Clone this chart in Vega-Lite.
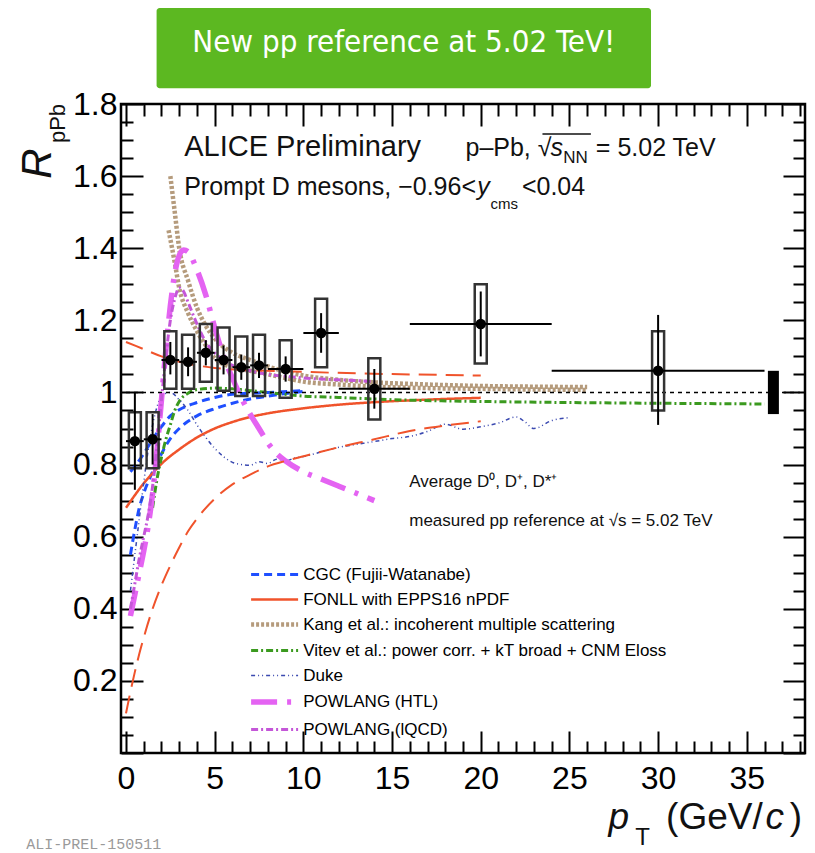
{
"$schema": "https://vega.github.io/schema/vega-lite/v6.json",
"width": 684, "height": 649,
"autosize": {"type": "none"},
"padding": {"left": 121, "top": 104, "right": 10, "bottom": 100},
"background": "white",
"config": {
 "view": {"stroke": "black", "strokeWidth": 2.5},
 "font": "Liberation Sans",
 "axis": {"labelFont": "Liberation Sans", "labelFontSize": 32, "labelColor": "black", "labelOverlap": false, "labelFlush": false, "labelSeparation": -40, "ticks": false, "domain": false, "grid": true, "gridColor": "black", "gridOpacity": 1, "gridWidth": 2, "titleOpacity": 0}
},
"resolve": {"axis": {"x": "independent", "y": "independent"}},
"datasets": {
"names": [
{"id": "cgc", "m": "CGC (Fujii-Watanabe)"},
{"id": "fonll", "m": "FONLL with EPPS16 nPDF"},
{"id": "kang", "m": "Kang et al.: incoherent multiple scattering"},
{"id": "vitev", "m": "Vitev et al.: power corr. + kT broad + CNM Eloss"},
{"id": "duke", "m": "Duke"},
{"id": "htl", "m": "POWLANG (HTL)"},
{"id": "lqcd", "m": "POWLANG (lQCD)"}
],
"models": [
{"id":"cgc","c":"u","pt":0.25,"r":0.78},{"id":"cgc","c":"u","pt":0.5,"r":0.795},{"id":"cgc","c":"u","pt":1,"r":0.83},{"id":"cgc","c":"u","pt":1.5,"r":0.87},{"id":"cgc","c":"u","pt":2,"r":0.905},{"id":"cgc","c":"u","pt":2.5,"r":0.935},{"id":"cgc","c":"u","pt":3,"r":0.952},{"id":"cgc","c":"u","pt":4,"r":0.972},{"id":"cgc","c":"u","pt":5,"r":0.986},{"id":"cgc","c":"u","pt":6,"r":0.995},{"id":"cgc","c":"u","pt":8,"r":1.0},{"id":"cgc","c":"u","pt":10,"r":1.005},
{"id":"cgc","c":"l","pt":0.25,"r":0.55},{"id":"cgc","c":"l","pt":0.5,"r":0.62},{"id":"cgc","c":"l","pt":0.75,"r":0.68},{"id":"cgc","c":"l","pt":1,"r":0.72},{"id":"cgc","c":"l","pt":1.5,"r":0.78},{"id":"cgc","c":"l","pt":2,"r":0.83},{"id":"cgc","c":"l","pt":2.5,"r":0.872},{"id":"cgc","c":"l","pt":3,"r":0.9},{"id":"cgc","c":"l","pt":3.5,"r":0.92},{"id":"cgc","c":"l","pt":4,"r":0.935},{"id":"cgc","c":"l","pt":5,"r":0.955},{"id":"cgc","c":"l","pt":6,"r":0.97},{"id":"cgc","c":"l","pt":7,"r":0.982},{"id":"cgc","c":"l","pt":8,"r":0.99},{"id":"cgc","c":"l","pt":9,"r":0.997},{"id":"cgc","c":"l","pt":10,"r":1.003},
{"id":"fonll","c":"c","pt":0,"r":0.68},{"id":"fonll","c":"c","pt":0.5,"r":0.715},{"id":"fonll","c":"c","pt":1,"r":0.748},{"id":"fonll","c":"c","pt":1.5,"r":0.776},{"id":"fonll","c":"c","pt":2,"r":0.802},{"id":"fonll","c":"c","pt":3,"r":0.842},{"id":"fonll","c":"c","pt":4,"r":0.875},{"id":"fonll","c":"c","pt":5,"r":0.9},{"id":"fonll","c":"c","pt":6,"r":0.918},{"id":"fonll","c":"c","pt":7,"r":0.932},{"id":"fonll","c":"c","pt":8,"r":0.942},{"id":"fonll","c":"c","pt":10,"r":0.956},{"id":"fonll","c":"c","pt":12,"r":0.966},{"id":"fonll","c":"c","pt":14,"r":0.973},{"id":"fonll","c":"c","pt":16,"r":0.978},{"id":"fonll","c":"c","pt":18,"r":0.982},{"id":"fonll","c":"c","pt":20,"r":0.985},
{"id":"fonll","c":"eu","pt":0,"r":1.14},{"id":"fonll","c":"eu","pt":1,"r":1.12},{"id":"fonll","c":"eu","pt":2,"r":1.1},{"id":"fonll","c":"eu","pt":3,"r":1.085},{"id":"fonll","c":"eu","pt":4,"r":1.075},{"id":"fonll","c":"eu","pt":5,"r":1.068},{"id":"fonll","c":"eu","pt":7,"r":1.062},{"id":"fonll","c":"eu","pt":10,"r":1.057},{"id":"fonll","c":"eu","pt":13,"r":1.053},{"id":"fonll","c":"eu","pt":16,"r":1.05},{"id":"fonll","c":"eu","pt":20,"r":1.047},
{"id":"fonll","c":"el","pt":0,"r":0.11},{"id":"fonll","c":"el","pt":0.25,"r":0.17},{"id":"fonll","c":"el","pt":0.5,"r":0.225},{"id":"fonll","c":"el","pt":0.75,"r":0.275},{"id":"fonll","c":"el","pt":1,"r":0.32},{"id":"fonll","c":"el","pt":1.5,"r":0.4},{"id":"fonll","c":"el","pt":2,"r":0.465},{"id":"fonll","c":"el","pt":2.5,"r":0.52},{"id":"fonll","c":"el","pt":3,"r":0.57},{"id":"fonll","c":"el","pt":3.5,"r":0.615},{"id":"fonll","c":"el","pt":4,"r":0.65},{"id":"fonll","c":"el","pt":5,"r":0.705},{"id":"fonll","c":"el","pt":6,"r":0.745},{"id":"fonll","c":"el","pt":7,"r":0.772},{"id":"fonll","c":"el","pt":8,"r":0.795},{"id":"fonll","c":"el","pt":9,"r":0.81},{"id":"fonll","c":"el","pt":10,"r":0.823},{"id":"fonll","c":"el","pt":12,"r":0.848},{"id":"fonll","c":"el","pt":14,"r":0.87},{"id":"fonll","c":"el","pt":16,"r":0.893},{"id":"fonll","c":"el","pt":18,"r":0.908},{"id":"fonll","c":"el","pt":20,"r":0.92},
{"id":"kang","c":"u","pt":2.5,"r":1.6},{"id":"kang","c":"u","pt":2.75,"r":1.5},{"id":"kang","c":"u","pt":3,"r":1.4},{"id":"kang","c":"u","pt":3.5,"r":1.31},{"id":"kang","c":"u","pt":4,"r":1.235},{"id":"kang","c":"u","pt":4.5,"r":1.185},{"id":"kang","c":"u","pt":5,"r":1.15},{"id":"kang","c":"u","pt":6,"r":1.11},{"id":"kang","c":"u","pt":7,"r":1.09},{"id":"kang","c":"u","pt":8,"r":1.072},{"id":"kang","c":"u","pt":9,"r":1.058},{"id":"kang","c":"u","pt":10,"r":1.047},{"id":"kang","c":"u","pt":12,"r":1.035},{"id":"kang","c":"u","pt":14,"r":1.028},{"id":"kang","c":"u","pt":17,"r":1.022},{"id":"kang","c":"u","pt":20,"r":1.018},{"id":"kang","c":"u","pt":23,"r":1.016},{"id":"kang","c":"u","pt":26,"r":1.015},
{"id":"kang","c":"l","pt":2.4,"r":1.45},{"id":"kang","c":"l","pt":2.75,"r":1.36},{"id":"kang","c":"l","pt":3,"r":1.29},{"id":"kang","c":"l","pt":3.5,"r":1.22},{"id":"kang","c":"l","pt":4,"r":1.17},{"id":"kang","c":"l","pt":4.5,"r":1.13},{"id":"kang","c":"l","pt":5,"r":1.095},{"id":"kang","c":"l","pt":6,"r":1.07},{"id":"kang","c":"l","pt":7,"r":1.06},{"id":"kang","c":"l","pt":8,"r":1.05},{"id":"kang","c":"l","pt":9,"r":1.04},{"id":"kang","c":"l","pt":10,"r":1.03},{"id":"kang","c":"l","pt":12,"r":1.022},{"id":"kang","c":"l","pt":14,"r":1.016},{"id":"kang","c":"l","pt":17,"r":1.012},{"id":"kang","c":"l","pt":20,"r":1.01},{"id":"kang","c":"l","pt":23,"r":1.008},{"id":"kang","c":"l","pt":26,"r":1.007},
{"id":"vitev","c":"a","pt":1.5,"r":0.68},{"id":"vitev","c":"a","pt":1.75,"r":0.76},{"id":"vitev","c":"a","pt":2,"r":0.82},{"id":"vitev","c":"a","pt":2.25,"r":0.87},{"id":"vitev","c":"a","pt":2.5,"r":0.91},{"id":"vitev","c":"a","pt":2.75,"r":0.95},{"id":"vitev","c":"a","pt":3,"r":0.975},{"id":"vitev","c":"a","pt":3.5,"r":0.998},{"id":"vitev","c":"a","pt":4,"r":1.008},{"id":"vitev","c":"a","pt":5,"r":1.012},{"id":"vitev","c":"a","pt":6,"r":1.01},{"id":"vitev","c":"a","pt":7,"r":1.005},{"id":"vitev","c":"a","pt":8,"r":1.0},{"id":"vitev","c":"a","pt":10,"r":0.99},{"id":"vitev","c":"a","pt":12,"r":0.986},{"id":"vitev","c":"a","pt":15,"r":0.98},{"id":"vitev","c":"a","pt":20,"r":0.975},{"id":"vitev","c":"a","pt":25,"r":0.972},{"id":"vitev","c":"a","pt":30,"r":0.97},{"id":"vitev","c":"a","pt":36,"r":0.968},
{"id":"duke","c":"a","pt":0.25,"r":0.45},{"id":"duke","c":"a","pt":0.5,"r":0.55},{"id":"duke","c":"a","pt":0.75,"r":0.65},{"id":"duke","c":"a","pt":1,"r":0.75},{"id":"duke","c":"a","pt":1.25,"r":0.84},{"id":"duke","c":"a","pt":1.5,"r":0.91},{"id":"duke","c":"a","pt":1.75,"r":0.96},{"id":"duke","c":"a","pt":2,"r":0.99},{"id":"duke","c":"a","pt":2.5,"r":1.0},{"id":"duke","c":"a","pt":3,"r":0.98},{"id":"duke","c":"a","pt":3.5,"r":0.95},{"id":"duke","c":"a","pt":4,"r":0.91},{"id":"duke","c":"a","pt":4.5,"r":0.875},{"id":"duke","c":"a","pt":5,"r":0.845},{"id":"duke","c":"a","pt":5.5,"r":0.822},{"id":"duke","c":"a","pt":6,"r":0.806},{"id":"duke","c":"a","pt":6.5,"r":0.8},{"id":"duke","c":"a","pt":7,"r":0.798},{"id":"duke","c":"a","pt":7.5,"r":0.808},{"id":"duke","c":"a","pt":8,"r":0.803},{"id":"duke","c":"a","pt":8.5,"r":0.815},{"id":"duke","c":"a","pt":9,"r":0.81},{"id":"duke","c":"a","pt":9.5,"r":0.818},{"id":"duke","c":"a","pt":10,"r":0.822},{"id":"duke","c":"a","pt":11,"r":0.835},{"id":"duke","c":"a","pt":12,"r":0.848},{"id":"duke","c":"a","pt":13,"r":0.856},{"id":"duke","c":"a","pt":14,"r":0.864},{"id":"duke","c":"a","pt":15,"r":0.872},{"id":"duke","c":"a","pt":16,"r":0.878},{"id":"duke","c":"a","pt":17,"r":0.892},{"id":"duke","c":"a","pt":18,"r":0.912},{"id":"duke","c":"a","pt":19,"r":0.898},{"id":"duke","c":"a","pt":20,"r":0.905},{"id":"duke","c":"a","pt":21,"r":0.915},{"id":"duke","c":"a","pt":22,"r":0.932},{"id":"duke","c":"a","pt":22.5,"r":0.918},{"id":"duke","c":"a","pt":23,"r":0.9},{"id":"duke","c":"a","pt":24,"r":0.922},{"id":"duke","c":"a","pt":25,"r":0.93},
{"id":"htl","c":"a","pt":0.25,"r":0.38},{"id":"htl","c":"a","pt":0.5,"r":0.44},{"id":"htl","c":"a","pt":0.75,"r":0.5},{"id":"htl","c":"a","pt":1,"r":0.56},{"id":"htl","c":"a","pt":1.25,"r":0.63},{"id":"htl","c":"a","pt":1.5,"r":0.72},{"id":"htl","c":"a","pt":1.75,"r":0.84},{"id":"htl","c":"a","pt":2,"r":0.98},{"id":"htl","c":"a","pt":2.25,"r":1.12},{"id":"htl","c":"a","pt":2.5,"r":1.24},{"id":"htl","c":"a","pt":2.75,"r":1.33},{"id":"htl","c":"a","pt":3,"r":1.38},{"id":"htl","c":"a","pt":3.25,"r":1.395},{"id":"htl","c":"a","pt":3.5,"r":1.39},{"id":"htl","c":"a","pt":4,"r":1.34},{"id":"htl","c":"a","pt":4.5,"r":1.27},{"id":"htl","c":"a","pt":5,"r":1.18},{"id":"htl","c":"a","pt":5.5,"r":1.1},{"id":"htl","c":"a","pt":6,"r":1.04},{"id":"htl","c":"a","pt":6.5,"r":0.985},{"id":"htl","c":"a","pt":7,"r":0.94},{"id":"htl","c":"a","pt":7.5,"r":0.9},{"id":"htl","c":"a","pt":8,"r":0.86},{"id":"htl","c":"a","pt":8.5,"r":0.83},{"id":"htl","c":"a","pt":9,"r":0.81},{"id":"htl","c":"a","pt":10,"r":0.78},{"id":"htl","c":"a","pt":11,"r":0.76},{"id":"htl","c":"a","pt":12,"r":0.74},{"id":"htl","c":"a","pt":13,"r":0.72},{"id":"htl","c":"a","pt":14,"r":0.7},
{"id":"lqcd","c":"a","pt":0.25,"r":0.4},{"id":"lqcd","c":"a","pt":0.5,"r":0.47},{"id":"lqcd","c":"a","pt":0.75,"r":0.54},{"id":"lqcd","c":"a","pt":1,"r":0.6},{"id":"lqcd","c":"a","pt":1.25,"r":0.66},{"id":"lqcd","c":"a","pt":1.5,"r":0.74},{"id":"lqcd","c":"a","pt":1.75,"r":0.85},{"id":"lqcd","c":"a","pt":2,"r":0.98},{"id":"lqcd","c":"a","pt":2.25,"r":1.1},{"id":"lqcd","c":"a","pt":2.5,"r":1.2},{"id":"lqcd","c":"a","pt":2.75,"r":1.26},{"id":"lqcd","c":"a","pt":3,"r":1.29},{"id":"lqcd","c":"a","pt":3.25,"r":1.28},{"id":"lqcd","c":"a","pt":3.5,"r":1.25},{"id":"lqcd","c":"a","pt":4,"r":1.19},{"id":"lqcd","c":"a","pt":4.5,"r":1.14},{"id":"lqcd","c":"a","pt":5,"r":1.11},{"id":"lqcd","c":"a","pt":6,"r":1.075},{"id":"lqcd","c":"a","pt":7,"r":1.06},{"id":"lqcd","c":"a","pt":8,"r":1.05},{"id":"lqcd","c":"a","pt":9,"r":1.045},{"id":"lqcd","c":"a","pt":10,"r":1.04},{"id":"lqcd","c":"a","pt":11,"r":1.037},{"id":"lqcd","c":"a","pt":12,"r":1.035},{"id":"lqcd","c":"a","pt":13,"r":1.033},{"id":"lqcd","c":"a","pt":14,"r":1.03}
],
"dmeson": [
{"pt":0.5,"ptlo":0,"pthi":1,"r":0.865,"slo":0.73,"shi":1.0,"ylo":0.79,"yhi":0.945},
{"pt":1.5,"ptlo":1,"pthi":2,"r":0.87,"slo":0.8,"shi":0.94,"ylo":0.79,"yhi":0.945},
{"pt":2.5,"ptlo":2,"pthi":3,"r":1.09,"slo":1.05,"shi":1.14,"ylo":1.01,"yhi":1.17},
{"pt":3.5,"ptlo":3,"pthi":4,"r":1.085,"slo":1.045,"shi":1.125,"ylo":1.01,"yhi":1.16},
{"pt":4.5,"ptlo":4,"pthi":5,"r":1.11,"slo":1.075,"shi":1.145,"ylo":1.03,"yhi":1.19},
{"pt":5.5,"ptlo":5,"pthi":6,"r":1.09,"slo":1.05,"shi":1.13,"ylo":1.005,"yhi":1.18},
{"pt":6.5,"ptlo":6,"pthi":7,"r":1.07,"slo":1.035,"shi":1.105,"ylo":0.99,"yhi":1.155},
{"pt":7.5,"ptlo":7,"pthi":8,"r":1.075,"slo":1.04,"shi":1.11,"ylo":0.99,"yhi":1.16},
{"pt":9,"ptlo":8,"pthi":10,"r":1.065,"slo":1.03,"shi":1.1,"ylo":0.985,"yhi":1.145},
{"pt":11,"ptlo":10,"pthi":12,"r":1.165,"slo":1.11,"shi":1.22,"ylo":1.07,"yhi":1.26},
{"pt":14,"ptlo":12,"pthi":16,"r":1.01,"slo":0.955,"shi":1.065,"ylo":0.925,"yhi":1.095},
{"pt":20,"ptlo":16,"pthi":24,"r":1.19,"slo":1.1,"shi":1.28,"ylo":1.08,"yhi":1.3},
{"pt":30,"ptlo":24,"pthi":36,"r":1.06,"slo":0.91,"shi":1.215,"ylo":0.95,"yhi":1.17}
],
"norm": [{"pt": 36.5, "lo": 0.94, "hi": 1.06}]
},
"layer": [
{"data": {"name": "models"},
 "transform": [{"filter": "datum.c != 'eu' && datum.c != 'el'"}, {"lookup": "id", "from": {"data": {"name": "names"}, "key": "id", "fields": ["m"]}}],
 "mark": {"type": "line", "interpolate": "monotone"},
 "encoding": {
  "x": {"field": "pt", "type": "quantitative", "title": null, "scale": {"domain": [0, 38], "nice": false, "zero": false},
   "axis": {"title": null, "orient": "bottom", "values": [0,1,2,3,4,5,6,7,8,9,10,11,12,13,14,15,16,17,18,19,20,21,22,23,24,25,26,27,28,29,30,31,32,33,34,35,36,37,38], "format": "d",
    "labelExpr": "datum.value % 5 == 0 ? datum.label : ''", "labelFont": "Liberation Sans", "labelFontSize": 32, "labelColor": "black", "labelPadding": 10, "labelOverlap": false, "labelFlush": false, "labelSeparation": -40,
    "ticks": false, "domain": false, "grid": true, "gridColor": "black", "gridOpacity": 1, "gridWidth": 2,
    "gridDash": {"condition": {"test": "datum.value % 5 == 0", "value": [22, 605, 22]}, "value": [12, 625, 12]}}},
  "y": {"field": "r", "type": "quantitative", "title": null, "scale": {"domain": [0, 1.8], "nice": false, "zero": false},
   "axis": {"title": null, "orient": "left", "values": [0,0.05,0.1,0.15,0.2,0.25,0.3,0.35,0.4,0.45,0.5,0.55,0.6,0.65,0.7,0.75,0.8,0.85,0.9,0.95,1,1.05,1.1,1.15,1.2,1.25,1.3,1.35,1.4,1.45,1.5,1.55,1.6,1.65,1.7,1.75,1.8], "format": ".2~f",
    "labelExpr": "round(datum.value*100) % 20 == 0 && datum.value > 0.01 ? datum.label : ''", "labelFont": "Liberation Sans", "labelFontSize": 32, "labelColor": "black", "labelPadding": 4, "labelOverlap": false, "labelFlush": false, "labelSeparation": -40,
    "ticks": false, "domain": false, "grid": true, "gridColor": "black", "gridOpacity": 1, "gridWidth": 2,
    "gridDash": {"condition": {"test": "round(datum.value*100) % 20 == 0", "value": [22, 640, 22]}, "value": [12, 660, 12]}}},
  "color": {"field": "m", "type": "nominal",
   "scale": {"domain": ["CGC (Fujii-Watanabe)", "FONLL with EPPS16 nPDF", "Kang et al.: incoherent multiple scattering", "Vitev et al.: power corr. + kT broad + CNM Eloss", "Duke", "POWLANG (HTL)", "POWLANG (lQCD)"],
    "range": ["#1f4fff", "#f0532b", "#b59b7c", "#3b9a1f", "#3a49b0", "#e463f2", "#c456d8"]},
   "legend": {"orient": "none", "legendX": 144.6, "legendY": 462, "title": null, "symbolType": "M-4,0H4", "symbolSize": 138, "symbolStrokeWidth": 3, "labelFont": "Liberation Sans", "labelFontSize": 17, "labelColor": "black", "labelOffset": 19.6, "rowPadding": 7, "padding": 0, "labelLimit": 600}},
  "strokeDash": {"field": "m", "type": "nominal",
   "scale": {"domain": ["CGC (Fujii-Watanabe)", "FONLL with EPPS16 nPDF", "Kang et al.: incoherent multiple scattering", "Vitev et al.: power corr. + kT broad + CNM Eloss", "Duke", "POWLANG (HTL)", "POWLANG (lQCD)"],
    "range": [[8, 5], [1, 0], [3, 2], [7, 3, 2, 3], [4, 3, 1, 3, 1, 3], [26, 10, 4, 10], [7, 3, 2, 3]]}},
  "strokeWidth": {"field": "m", "type": "nominal", "legend": null,
   "scale": {"type": "ordinal", "domain": ["CGC (Fujii-Watanabe)", "FONLL with EPPS16 nPDF", "Kang et al.: incoherent multiple scattering", "Vitev et al.: power corr. + kT broad + CNM Eloss", "Duke", "POWLANG (HTL)", "POWLANG (lQCD)"],
    "range": [3, 2.5, 4.5, 3, 1.5, 5.5, 3]}},
  "detail": {"field": "c"}
 }},
{"data": {"name": "models"}, "transform": [{"filter": "datum.c == 'eu' || datum.c == 'el'"}],
 "mark": {"type": "line", "interpolate": "monotone", "color": "#f0532b", "strokeWidth": 2, "strokeDash": [18, 9]},
 "encoding": {"x": {"field": "pt", "type": "quantitative", "axis": null}, "y": {"field": "r", "type": "quantitative", "axis": null}, "detail": {"field": "c"}}},
{"data": {"values": [{}]}, "mark": {"type": "rule", "color": "black", "strokeWidth": 1.5, "strokeDash": [4, 4]}, "encoding": {"x": {"datum": 0, "axis": null}, "x2": {"datum": 38}, "y": {"datum": 1, "axis": null}}},
{"data": {"name": "dmeson"}, "mark": {"type": "bar", "width": 12, "filled": false, "color": "#333", "strokeWidth": 2.5},
 "encoding": {"x": {"field": "pt", "type": "quantitative", "axis": null}, "y": {"field": "ylo", "type": "quantitative", "axis": null}, "y2": {"field": "yhi"}}},
{"data": {"name": "dmeson"}, "mark": {"type": "rule", "color": "black", "strokeWidth": 2},
 "encoding": {"x": {"field": "ptlo", "type": "quantitative", "axis": null}, "x2": {"field": "pthi"}, "y": {"field": "r", "type": "quantitative", "axis": null}}},
{"data": {"name": "dmeson"}, "mark": {"type": "rule", "color": "black", "strokeWidth": 2},
 "encoding": {"x": {"field": "pt", "type": "quantitative", "axis": null}, "y": {"field": "slo", "type": "quantitative", "axis": null}, "y2": {"field": "shi"}}},
{"data": {"name": "dmeson"}, "mark": {"type": "circle", "color": "black", "opacity": 1, "size": 110},
 "encoding": {"x": {"field": "pt", "type": "quantitative", "axis": null}, "y": {"field": "r", "type": "quantitative", "axis": null}}},
{"data": {"name": "norm"}, "mark": {"type": "bar", "width": 11, "color": "black"},
 "encoding": {"x": {"field": "pt", "type": "quantitative", "axis": null}, "y": {"field": "lo", "type": "quantitative", "axis": null}, "y2": {"field": "hi"}}},
{"data": {"values": [{}]}, "mark": {"type": "rect", "color": "#5cb821", "cornerRadius": 3}, "encoding": {"x": {"datum": 1.725, "axis": null}, "x2": {"datum": 29.6}, "y": {"datum": 2.066, "axis": null}, "y2": {"datum": 1.844}}},
{"data": {"values": [{}]}, "mark": {"type": "text", "text": "New pp reference at 5.02 TeV!", "font": "DejaVu Sans Condensed, Liberation Sans", "fontSize": 31, "color": "white", "align": "center", "baseline": "middle"}, "encoding": {"x": {"datum": 15.66, "axis": null}, "y": {"datum": 1.969, "axis": null}}},
{"data": {"values": [{}]}, "mark": {"type": "text", "text": "ALICE Preliminary", "fontSize": 29, "color": "#111", "align": "left", "baseline": "middle"}, "encoding": {"x": {"datum": 3.28, "axis": null}, "y": {"datum": 1.6794, "axis": null}}},
{"data": {"values": [{}]}, "mark": {"type": "text", "text": "p–Pb, √", "fontSize": 25, "color": "#111", "align": "left", "baseline": "middle"}, "encoding": {"x": {"datum": 19.14, "axis": null}, "y": {"datum": 1.678, "axis": null}}},
{"data": {"values": [{}]}, "mark": {"type": "text", "text": "s", "fontSize": 25, "fontStyle": "italic", "color": "#111", "align": "left", "baseline": "middle"}, "encoding": {"x": {"datum": 23.93, "axis": null}, "y": {"datum": 1.678, "axis": null}}},
{"data": {"values": [{}]}, "mark": {"type": "text", "text": "NN", "fontSize": 17, "color": "#111", "align": "left", "baseline": "middle"}, "encoding": {"x": {"datum": 24.65, "axis": null}, "y": {"datum": 1.649, "axis": null}}},
{"data": {"values": [{}]}, "mark": {"type": "text", "text": "= 5.02 TeV", "fontSize": 25, "color": "#111", "align": "left", "baseline": "middle"}, "encoding": {"x": {"datum": 26.49, "axis": null}, "y": {"datum": 1.678, "axis": null}}},
{"data": {"values": [{}]}, "mark": {"type": "rule", "color": "#111", "strokeWidth": 1.5}, "encoding": {"x": {"datum": 23.48, "axis": null}, "x2": {"datum": 26.21}, "y": {"datum": 1.717, "axis": null}}},
{"data": {"values": [{}]}, "mark": {"type": "text", "text": "Prompt D mesons, −0.96<", "fontSize": 25, "color": "#111", "align": "left", "baseline": "middle"}, "encoding": {"x": {"datum": 3.28, "axis": null}, "y": {"datum": 1.5698, "axis": null}}},
{"data": {"values": [{}]}, "mark": {"type": "text", "text": "y", "fontSize": 25, "fontStyle": "italic", "color": "#111", "align": "left", "baseline": "middle"}, "encoding": {"x": {"datum": 19.8, "axis": null}, "y": {"datum": 1.5698, "axis": null}}},
{"data": {"values": [{}]}, "mark": {"type": "text", "text": "cms", "fontSize": 15, "color": "#111", "align": "left", "baseline": "middle"}, "encoding": {"x": {"datum": 20.55, "axis": null}, "y": {"datum": 1.523, "axis": null}}},
{"data": {"values": [{}]}, "mark": {"type": "text", "text": "<0.04", "fontSize": 25, "color": "#111", "align": "left", "baseline": "middle"}, "encoding": {"x": {"datum": 22.32, "axis": null}, "y": {"datum": 1.5698, "axis": null}}},
{"data": {"values": [{}]}, "mark": {"type": "text", "text": "Average D⁰, D⁺, D*⁺", "fontSize": 17, "color": "#111", "align": "left", "baseline": "middle"}, "encoding": {"x": {"datum": 15.97, "axis": null}, "y": {"datum": 0.752, "axis": null}}},
{"data": {"values": [{}]}, "mark": {"type": "text", "text": "measured pp reference at √s = 5.02 TeV", "fontSize": 17, "color": "#111", "align": "left", "baseline": "middle"}, "encoding": {"x": {"datum": 15.97, "axis": null}, "y": {"datum": 0.6435, "axis": null}}},
{"data": {"values": [{}]}, "mark": {"type": "text", "text": "p", "fontSize": 37, "fontStyle": "italic", "color": "#111", "align": "left", "baseline": "middle"}, "encoding": {"x": {"datum": 27.21, "axis": null}, "y": {"datum": -0.18, "axis": null}}},
{"data": {"values": [{}]}, "mark": {"type": "text", "text": "T", "fontSize": 24, "color": "#111", "align": "left", "baseline": "middle"}, "encoding": {"x": {"datum": 28.71, "axis": null}, "y": {"datum": -0.236, "axis": null}}},
{"data": {"values": [{}]}, "mark": {"type": "text", "text": "(GeV/", "fontSize": 37, "color": "#111", "align": "right", "baseline": "middle"}, "encoding": {"x": {"datum": 35.9, "axis": null}, "y": {"datum": -0.18, "axis": null}}},
{"data": {"values": [{}]}, "mark": {"type": "text", "text": "c", "fontSize": 37, "fontStyle": "italic", "color": "#111", "align": "right", "baseline": "middle"}, "encoding": {"x": {"datum": 37.1, "axis": null}, "y": {"datum": -0.18, "axis": null}}},
{"data": {"values": [{}]}, "mark": {"type": "text", "text": ")", "fontSize": 37, "color": "#111", "align": "right", "baseline": "middle"}, "encoding": {"x": {"datum": 38.12, "axis": null}, "y": {"datum": -0.18, "axis": null}}},
{"data": {"values": [{}]}, "mark": {"type": "text", "text": "R", "fontSize": 42, "fontStyle": "italic", "angle": 270, "color": "#111", "align": "center", "baseline": "middle"}, "encoding": {"x": {"datum": -4.95, "axis": null}, "y": {"datum": 1.635, "axis": null}}},
{"data": {"values": [{}]}, "mark": {"type": "text", "text": "pPb", "fontSize": 22, "angle": 270, "color": "#111", "align": "center", "baseline": "middle"}, "encoding": {"x": {"datum": -3.84, "axis": null}, "y": {"datum": 1.746, "axis": null}}},
{"data": {"values": [{}]}, "mark": {"type": "text", "text": "ALI-PREL-150511", "font": "Liberation Mono", "fontSize": 15, "color": "#9a9a9a", "align": "left", "baseline": "middle"}, "encoding": {"x": {"datum": -5.62, "axis": null}, "y": {"datum": -0.252, "axis": null}}}
]
}
